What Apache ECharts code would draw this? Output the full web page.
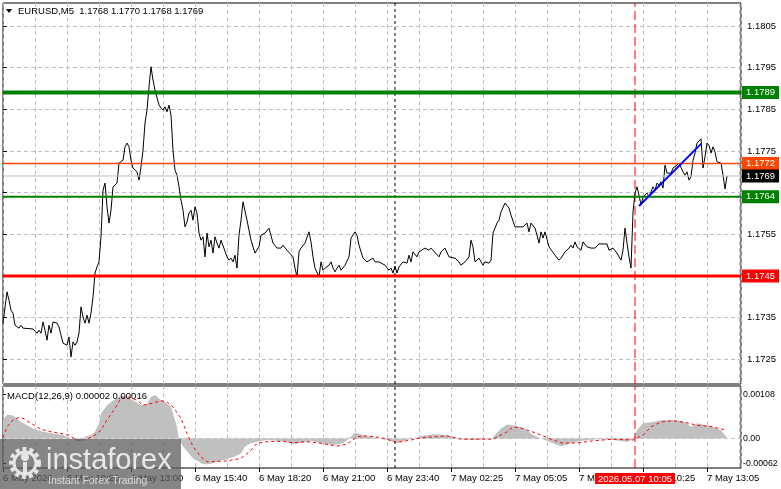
<!DOCTYPE html>
<html>
<head>
<meta charset="utf-8">
<script src="https://cdn.jsdelivr.net/npm/echarts@6/dist/echarts.min.js"></script>
<style>html,body{margin:0;padding:0;background:#fff}#c{width:781px;height:489px}</style>
</head>
<body>
<div id="c"></div>
<script>
// ---- data ----
// price closes: [bar index (M5 bars from 6 May 07:40), price]
const pricePoints = [[0,1.17337],[2,1.17412],[3,1.17392],[4,1.17368],[5,1.17361],[6,1.17332],[8,1.17325],[9,1.17332],[10,1.17325],[15,1.17323],[17,1.17313],[18,1.17320],[19,1.17313],[20,1.17340],[21,1.17320],[22,1.17296],[23,1.17332],[24,1.17313],[25,1.17340],[27,1.17337],[28,1.17328],[30,1.17289],[32,1.17284],[33,1.17304],[34,1.17256],[35,1.17292],[36,1.17284],[37,1.17292],[38,1.17313],[39,1.17376],[40,1.17352],[41,1.17337],[42,1.17356],[43,1.17337],[44,1.17361],[45,1.17400],[46,1.17457],[47,1.17472],[48,1.17484],[49,1.17544],[50,1.17656],[51,1.17673],[52,1.17616],[53,1.17577],[54,1.17608],[55,1.17664],[57,1.17673],[58,1.17721],[60,1.17728],[61,1.17760],[62,1.17769],[63,1.17760],[64,1.17728],[65,1.17709],[67,1.17700],[68,1.17680],[69,1.17712],[70,1.17752],[71,1.17817],[72,1.17848],[73,1.17904],[74,1.17952],[75,1.17920],[76,1.17896],[77,1.17896],[78,1.17860],[79,1.17853],[80,1.17848],[81,1.17856],[82,1.17844],[83,1.17860],[84,1.17836],[85,1.17752],[86,1.17704],[87,1.17692],[88,1.17664],[89,1.17632],[90,1.17608],[91,1.17568],[92,1.17580],[93,1.17601],[94,1.17608],[95,1.17584],[96,1.17616],[97,1.17601],[98,1.17553],[99,1.17536],[100,1.17544],[101,1.17496],[102,1.17553],[103,1.17520],[104,1.17536],[105,1.17505],[106,1.17544],[107,1.17529],[108,1.17517],[109,1.17536],[110,1.17532],[112,1.17496],[113,1.17488],[114,1.17493],[115,1.17484],[116,1.17500],[117,1.17469],[118,1.17548],[119,1.17584],[120,1.17628],[122,1.17584],[124,1.17536],[126,1.17505],[128,1.17520],[129,1.17548],[131,1.17553],[133,1.17565],[134,1.17565],[135,1.17529],[137,1.17517],[139,1.17517],[140,1.17524],[142,1.17512],[143,1.17508],[145,1.17496],[146,1.17469],[147,1.17448],[148,1.17508],[149,1.17517],[151,1.17529],[153,1.17556],[154,1.17532],[155,1.17496],[156,1.17469],[158,1.17448],[159,1.17484],[160,1.17464],[161,1.17469],[163,1.17476],[164,1.17484],[165,1.17469],[166,1.17460],[167,1.17469],[168,1.17476],[169,1.17464],[171,1.17476],[173,1.17496],[174,1.17541],[176,1.17556],[177,1.17548],[178,1.17524],[180,1.17493],[181,1.17496],[182,1.17484],[183,1.17488],[185,1.17493],[186,1.17484],[188,1.17484],[189,1.17488],[191,1.17476],[193,1.17464],[194,1.17469],[195,1.17457],[196,1.17474],[197,1.17457],[198,1.17472],[200,1.17484],[202,1.17481],[203,1.17500],[204,1.17484],[205,1.17508],[207,1.17496],[208,1.17508],[209,1.17512],[211,1.17517],[213,1.17512],[214,1.17517],[215,1.17514],[218,1.17496],[219,1.17508],[221,1.17517],[223,1.17496],[226,1.17493],[228,1.17484],[229,1.17476],[231,1.17484],[233,1.17496],[234,1.17536],[235,1.17520],[236,1.17484],[238,1.17493],[239,1.17484],[240,1.17476],[241,1.17484],[243,1.17481],[244,1.17488],[245,1.17553],[247,1.17577],[248,1.17584],[249,1.17604],[251,1.17625],[253,1.17613],[254,1.17596],[256,1.17568],[258,1.17568],[260,1.17568],[262,1.17577],[263,1.17556],[264,1.17577],[266,1.17565],[267,1.17548],[268,1.17529],[269,1.17556],[270,1.17541],[271,1.17556],[273,1.17520],[274,1.17517],[276,1.17500],[278,1.17488],[279,1.17493],[281,1.17508],[283,1.17517],[284,1.17524],[285,1.17517],[286,1.17532],[287,1.17520],[288,1.17524],[289,1.17512],[290,1.17532],[292,1.17520],[293,1.17524],[294,1.17517],[296,1.17517],[298,1.17527],[302,1.17527],[303,1.17512],[305,1.17517],[307,1.17505],[308,1.17496],[309,1.17488],[310,1.17512],[311,1.17565],[312,1.17529],[313,1.17496],[314,1.17469],[315,1.17604],[316,1.17649],[317,1.17664],[318,1.17644],[319,1.17620],[320,1.17640],[322,1.17649],[323,1.17640],[324,1.17652],[325,1.17664],[326,1.17656],[327,1.17673],[328,1.17668],[329,1.17676],[330,1.17661],[331,1.17716],[332,1.17697],[333,1.17700],[334,1.17697],[335,1.17709],[337,1.17716],[338,1.17721],[340,1.17700],[341,1.17692],[342,1.17700],[343,1.17680],[344,1.17688],[345,1.17728],[346,1.17745],[347,1.17769],[348,1.17772],[349,1.17779],[350,1.17709],[351,1.17736],[352,1.17769],[353,1.17764],[354,1.17745],[355,1.17760],[356,1.17748],[357,1.17724],[358,1.17728],[359,1.17721],[360,1.17692],[361,1.17659],[362,1.17690]];

// MACD(12,26,9) main (histogram) and signal
const macdHist = [[0,0.00045],[2,0.00057],[4,0.00057],[6,0.00053],[9,0.00040],[12,0.00032],[15,0.00024],[20,0.00016],[25,0.00012],[30,0.00008],[34,0.0],[37,-0.00006],[39,-0.00007],[41,0.00004],[44,0.00008],[46,0.00016],[48,0.00037],[49,0.00061],[52,0.00081],[55,0.00092],[58,0.00101],[59,0.00106],[62,0.00101],[65,0.00093],[69,0.00081],[70,0.00077],[72,0.00085],[74,0.00101],[76,0.00106],[79,0.00093],[81,0.00089],[84,0.00077],[85,0.00061],[87,0.00028],[88,0.0],[90,-0.00020],[93,-0.00037],[95,-0.00049],[98,-0.00057],[100,-0.00063],[103,-0.00063],[107,-0.00057],[110,-0.00053],[115,-0.00046],[119,-0.00037],[121,-0.00020],[124,-0.00012],[127,-0.00008],[132,-0.00004],[140,-0.00007],[145,-0.00014],[149,-0.00011],[154,-0.00006],[159,-0.00012],[165,-0.00016],[170,-0.00012],[174,0.00004],[176,0.00014],[179,0.00010],[182,0.00006],[190,-0.00002],[192,-0.00004],[197,-0.00011],[202,-0.00004],[209,0.00006],[215,0.00010],[222,0.00008],[229,-0.00002],[235,-0.00004],[244,-0.00002],[246,0.00008],[249,0.00024],[252,0.00034],[255,0.00032],[259,0.00028],[262,0.00020],[265,0.00008],[269,0.0],[272,-0.00006],[275,-0.00012],[279,-0.00019],[284,-0.00012],[289,-0.00006],[297,-0.00002],[305,-0.00004],[312,-0.00008],[315,-0.00002],[317,0.00020],[320,0.00037],[325,0.00040],[330,0.00045],[335,0.00045],[339,0.00043],[342,0.00037],[344,0.00028],[347,0.00037],[350,0.00034],[355,0.00028],[359,0.00020],[361,0.00008],[362,0.00002]];
const macdSignal = [[0,0.00002],[2,0.00028],[5,0.00045],[8,0.00051],[10,0.00049],[14,0.00037],[19,0.00022],[24,0.00016],[29,0.00012],[33,0.00008],[36,-0.00002],[39,-0.00006],[43,0.0],[46,0.00008],[49,0.00020],[52,0.00045],[56,0.00073],[59,0.00098],[63,0.00101],[67,0.00093],[70,0.00081],[74,0.00085],[79,0.00092],[82,0.00089],[85,0.00077],[89,0.00049],[92,0.00012],[95,-0.00020],[99,-0.00045],[102,-0.00057],[105,-0.00057],[112,-0.00055],[119,-0.00049],[124,-0.00029],[127,-0.00012],[132,-0.00008],[140,-0.00007],[145,-0.00011],[152,-0.00008],[159,-0.00012],[167,-0.00019],[172,-0.00014],[177,0.00004],[182,0.00006],[189,0.00002],[197,-0.00010],[204,-0.00004],[210,0.00002],[222,0.00006],[229,-0.00002],[239,-0.00002],[245,-0.00002],[252,0.00016],[255,0.00028],[260,0.00024],[267,0.00012],[274,-0.00002],[280,-0.00012],[287,-0.00011],[295,-0.00006],[305,-0.00002],[315,-0.00004],[320,0.00008],[324,0.00028],[329,0.00040],[335,0.00043],[342,0.00038],[347,0.00032],[353,0.00030],[360,0.00022],[361,0.00020]];

// trend line drawn on the chart
const trendPoints = [[318,1.17618],[349,1.17767]];

// horizontal levels
const levelValues = [1.1789, 1.1772, 1.1769, 1.1764, 1.1745];

// tick labels
const priceGridTicks = [1.1725,1.1735,1.1745,1.1755,1.1765,1.1775,1.1785,1.1795,1.1805];
const priceLabelTicks = [1.1725,1.1735,1.1755,1.1775,1.1785,1.1795,1.1805];
const macdTicks = [-0.00062, 0, 0.00108];
const xTickIdx = [0,32,64,96,128,160,192,224,256,288,320,352];
const xTickLabels = ['6 May 2026','6 May 10:20','6 May 13:00','6 May 15:40','6 May 18:20','6 May 21:00','6 May 23:40','7 May 02:25','7 May 05:05','7 May 07:45','7 May 10:25','7 May 13:05'];
const markerIdx = 316;
const markerLabel = '2026.05.07 10:05';
const separatorIdx = 196;
const headerText = 'EURUSD,M5  1.1768 1.1770 1.1768 1.1769';
const macdText = 'MACD(12,26,9) 0.00002 0.00016';

// ---- axis ranges & styles ----
const BAR_MAX = 369;
const PRICE_MIN = 1.17191, PRICE_MAX = 1.18105;
const MACD_MIN = -0.000724, MACD_MAX = 0.00128;
const FONT = '"Liberation Sans", Arial, sans-serif';
const levelLineColors = ['#008000', '#ff4500', '#c0c0c0', '#008000', '#ff0000'];
const levelBoxColors  = ['#008000', '#ff4500', '#000000', '#008000', '#ff0000'];
const levelWidths = [4, 1.3, 1, 2, 3];
const gridDash = { color: '#c0c0c0', type: [4, 3], width: 1 };

const chart = echarts.init(document.getElementById('c'), null, { renderer: 'canvas' });

function plainLine(data, xi, yi, lineStyle, z) {
  return { type: 'line', xAxisIndex: xi, yAxisIndex: yi, data: data, showSymbol: false, symbol: 'none',
    silent: true, color: lineStyle.color, lineStyle: lineStyle, z: z };
}

const levelSeries = levelValues.map((v, i) => Object.assign(
  plainLine([[0, v], [BAR_MAX, v]], 0, 0, { color: levelLineColors[i], width: levelWidths[i], type: 'solid', opacity: 1 }, 5),
  { endLabel: { show: true, distance: 1, formatter: () => v.toFixed(4), color: '#fff',
      backgroundColor: levelBoxColors[i], padding: [2, 4, 1, 4], fontSize: 9.5, fontFamily: FONT } }
));

const vertSeries = [];
[[0, 0, PRICE_MIN, PRICE_MAX], [1, 1, MACD_MIN, MACD_MAX]].forEach(([xi, yi, lo, hi]) => {
  vertSeries.push(plainLine([[markerIdx, lo], [markerIdx, hi]], xi, yi, { color: '#ff0000', width: 1, type: [9, 4] }, 2));
  vertSeries.push(plainLine([[separatorIdx, lo], [separatorIdx, hi]], xi, yi, { color: '#000000', width: 1, type: [3, 3] }, 2));
});

const option = {
  animation: false,
  backgroundColor: '#ffffff',
  textStyle: { fontFamily: FONT },
  grid: [
    { left: 3, top: 3, width: 738, height: 381, show: true, borderColor: '#000', borderWidth: 1, backgroundColor: '#fff', containLabel: false, outerBoundsMode: 'none' },
    { left: 3, top: 386, width: 738, height: 82, show: true, borderColor: '#000', borderWidth: 1, backgroundColor: '#fff', containLabel: false, outerBoundsMode: 'none' }
  ],
  xAxis: [
    { type: 'value', gridIndex: 0, min: 0, max: BAR_MAX, interval: 16,
      axisLine: { show: false }, axisTick: { show: false }, axisLabel: { show: false },
      splitLine: { show: true, lineStyle: gridDash } },
    { type: 'value', gridIndex: 1, min: 0, max: BAR_MAX, interval: 16,
      axisLine: { show: false }, axisTick: { show: false }, axisLabel: { show: false },
      splitLine: { show: true, lineStyle: gridDash } },
    { type: 'value', gridIndex: 1, min: 0, max: BAR_MAX, position: 'bottom',
      axisLine: { show: false, onZero: false },
      axisTick: { show: true, customValues: xTickIdx, length: 4, lineStyle: { color: '#000' } },
      axisLabel: { show: true, customValues: xTickIdx, align: 'left', margin: 5,
        color: '#000', fontSize: 9.5, fontFamily: FONT,
        formatter: v => xTickLabels[xTickIdx.indexOf(v)] || '' },
      splitLine: { show: false } },
    { type: 'value', gridIndex: 1, min: 0, max: BAR_MAX, position: 'bottom', z: 10,
      axisLine: { show: false, onZero: false }, axisTick: { show: false },
      axisLabel: { show: true, customValues: [markerIdx], align: 'center', margin: 5,
        color: '#fff', backgroundColor: '#ff0000', padding: [1, 3, 0, 3],
        fontSize: 9.5, fontFamily: FONT, formatter: () => markerLabel },
      splitLine: { show: false } }
  ],
  yAxis: [
    { type: 'value', gridIndex: 0, position: 'right', min: PRICE_MIN, max: PRICE_MAX,
      axisLine: { show: false },
      axisTick: { show: true, customValues: priceGridTicks, length: 4, lineStyle: { color: '#000' } },
      axisLabel: { show: true, customValues: priceLabelTicks, margin: 6, color: '#000',
        fontSize: 9.5, fontFamily: FONT, formatter: v => v.toFixed(4) },
      splitLine: { show: true, lineStyle: gridDash } },
    { type: 'value', gridIndex: 1, position: 'right', min: MACD_MIN, max: MACD_MAX,
      axisLine: { show: false },
      axisTick: { show: true, customValues: macdTicks, length: 3, lineStyle: { color: '#000' } },
      axisLabel: { show: true, customValues: macdTicks, margin: 2, color: '#000',
        fontSize: 8.8, fontFamily: FONT, formatter: v => (v === 0 ? '0.00' : v.toFixed(5)) },
      splitLine: { show: false } }
  ],
  series: [
    plainLine([[0, 0], [BAR_MAX, 0]], 1, 1, { color: '#c0c0c0', width: 1, type: [4, 3] }, 1),
    ...vertSeries,
    { type: 'line', name: 'EURUSD', xAxisIndex: 0, yAxisIndex: 0, data: pricePoints,
      showSymbol: false, symbol: 'none', color: '#000', lineStyle: { color: '#000', width: 1 }, z: 3 },
    ...levelSeries,
    { type: 'line', name: 'trend', xAxisIndex: 0, yAxisIndex: 0, data: trendPoints,
      showSymbol: false, symbol: 'none', color: '#0000ff', lineStyle: { color: '#0000ff', width: 2 }, z: 6 },
    { type: 'line', name: 'MACD', xAxisIndex: 1, yAxisIndex: 1, data: macdHist,
      showSymbol: false, symbol: 'none', color: '#c0c0c0', lineStyle: { width: 0, color: '#c0c0c0' },
      areaStyle: { color: '#c0c0c0', opacity: 1 }, z: 2 },
    { type: 'line', name: 'Signal', xAxisIndex: 1, yAxisIndex: 1, data: macdSignal,
      showSymbol: false, symbol: 'none', color: '#ff0000', lineStyle: { color: '#ff0000', width: 1, type: [3, 3] }, z: 3 }
  ],
  graphic: [
    { type: 'polygon', shape: { points: [[6, 9], [12, 9], [9, 13]] }, style: { fill: '#000' }, z: 50 },
    { type: 'text', x: 18, y: 11, style: { text: headerText, fill: '#000', font: '9.5px ' + FONT, verticalAlign: 'middle' }, z: 50 },
    { type: 'text', x: 7, y: 396, style: { text: macdText, fill: '#000', font: '9.5px ' + FONT, verticalAlign: 'middle' }, z: 50 },
    { type: 'group', z: 100, children: [
      { type: 'rect', shape: { x: 0, y: 439, width: 181, height: 50 }, style: { fill: 'rgba(92,92,92,0.75)' }, z: 100 },
      { type: 'circle', shape: { cx: 25, cy: 463, r: 14 }, style: { fill: 'none', stroke: 'rgba(235,235,235,0.95)', lineWidth: 4, lineDash: [4, 3] }, z: 101 },
      { type: 'circle', shape: { cx: 25, cy: 463, r: 11 }, style: { fill: 'none', stroke: 'rgba(235,235,235,0.95)', lineWidth: 3 }, z: 101 },
      { type: 'circle', shape: { cx: 25, cy: 457, r: 4 }, style: { fill: 'rgba(235,235,235,0.95)' }, z: 101 },
      { type: 'rect', shape: { x: 23, y: 462, width: 4, height: 12 }, style: { fill: 'rgba(235,235,235,0.95)' }, z: 101 },
      { type: 'text', x: 46, y: 461, style: { text: 'instaforex', fill: 'rgba(238,238,238,0.95)', font: '29px ' + FONT, verticalAlign: 'middle' }, z: 101 },
      { type: 'text', x: 48, y: 481, style: { text: 'Instant Forex Trading', fill: 'rgba(230,230,230,0.9)', font: '10.5px ' + FONT, verticalAlign: 'middle' }, z: 101 }
    ] }
  ]
};
chart.setOption(option);
</script>
</body>
</html>
